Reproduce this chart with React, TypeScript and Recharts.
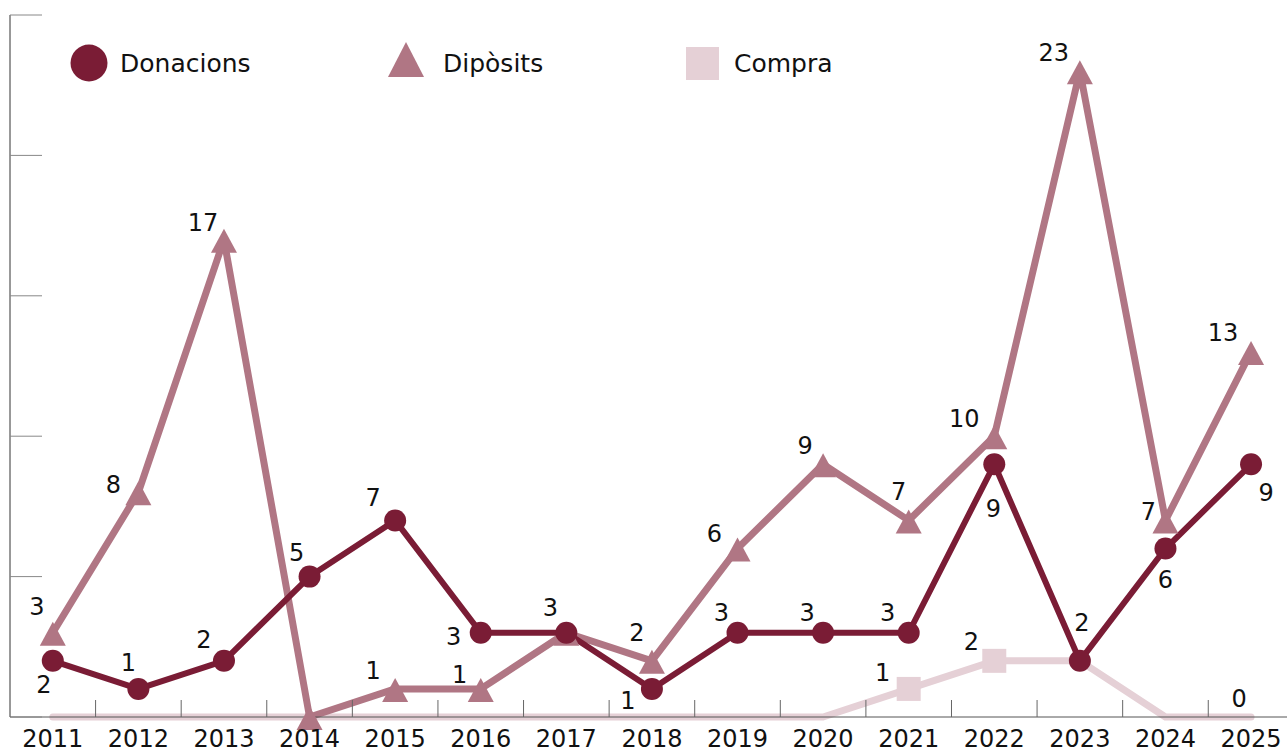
import React from 'react';
import { LineChart, Line, XAxis, YAxis, Legend, LabelList } from 'recharts';

const years = ['2011', '2012', '2013', '2014', '2015', '2016', '2017', '2018', '2019', '2020', '2021', '2022', '2023', '2024', '2025'];
const donacions = [2, 1, 2, 5, 7, 3, 3, 1, 3, 3, 3, 9, 2, 6, 9];
const diposits = [3, 8, 17, 0, 1, 1, 3, 2, 6, 9, 7, 10, 23, 7, 13];
const compra = [0, 0, 0, 0, 0, 0, 0, 0, 0, 0, 1, 2, 2, 0, 0];
const yTicks = [0, 5, 10, 15, 20, 25];
const seriesNames = { don: 'Donacions', dip: 'Dipòsits', com: 'Compra' };

// label placement offsets (style only)
const donOffsets: (number[] | null)[] = [
  [-9, 24], [-10, -27], [-20, -21], [-13, -24], [-22, -23], [-27, 4], null, [-24, 11],
  [-16, -20], [-16, -20], [-21, -20], [-1, 44], [2, -38], [0, 31], [15, 28],
];
const dipOffsets: (number[] | null)[] = [
  [-16, -26], [-25, -8], [-21, -17], null, [-22, -19], [-21, -15], [-16, -25], [-15, -28],
  [-23, -15], [-18, -19], [-10, -29], [-30, -18], [-26, -19], [-17, -9], [-28, -20],
];
const comOffsets: (number[] | null)[] = [
  null, null, null, null, null, null, null, null, null, null,
  [-26, -17], [-23, -19], null, null, [-12, -19],
];
// which Compra markers are visible (style only; the 2023 one sits under a Donacions marker)
const comMarkerVisible = [false, false, false, false, false, false, false, false, false, false, true, true, false, false, false];

const data = years.map((y, i) => ({ idx: i, year: y, don: donacions[i], dip: diposits[i], com: compra[i] }));

const W = 1287;
const H = 753;
const LEFT = 10;
const X_MAX = 14.42;
const HALF_BAND = (W - LEFT) / (X_MAX + 0.5) / 2;
const FONT = 'DejaVu Sans';

const C_DON = '#7a1c35';
const C_DIP = '#b07684';
const C_COM = '#e5d0d6';

const CircleDot = (p: any) => <circle key={`c${p.index}`} cx={p.cx} cy={p.cy} r={11} fill={C_DON} />;
const TriDot = (p: any) => {
  const { cx, cy } = p;
  return <polygon key={`t${p.index}`} points={`${cx - 13},${cy + 13} ${cx + 13},${cy + 13} ${cx},${cy - 11}`} fill={C_DIP} />;
};
const SquareDot = (p: any) => {
  if (!comMarkerVisible[p.index]) return <g key={`s${p.index}`} />;
  return <rect key={`s${p.index}`} x={p.cx - 12} y={p.cy - 12} width={24} height={24} fill={C_COM} />;
};

const makeLabel = (offs: (number[] | null)[]) => (props: any) => {
  const i = props.index;
  const o = offs[i];
  if (!o) return null;
  const vb = props.viewBox || {};
  const x = props.x ?? vb.x;
  const y = props.y ?? vb.y;
  return (
    <text key={`l${i}`} x={x + o[0]} y={y + o[1]} dy="0.36em" textAnchor="middle" fontSize={24} fontFamily={FONT} fill="#111">
      {props.value}
    </text>
  );
};

const XTick = (props: any) => {
  const { x, y, payload } = props;
  const i = payload.value;
  return (
    <g>
      <text x={x} y={y + 30} textAnchor="middle" fontSize={24} fontFamily={FONT} fill="#111">{years[i]}</text>
      {i < years.length - 1 && (
        <line x1={x + HALF_BAND} x2={x + HALF_BAND} y1={y} y2={y - 17} stroke="#666" strokeWidth={1} />
      )}
    </g>
  );
};

const EmptyTick = () => <g />;

const renderLegend = () => (
  <svg width={900} height={100} style={{ display: 'block' }}>
    <circle cx={89} cy={63} r={18.5} fill={C_DON} />
    <text x={120} y={72} fontSize={25} fontFamily={FONT} fill="#111">{seriesNames.don}</text>
    <polygon points="388,77 424,77 406,42" fill={C_DIP} />
    <text x={443} y={72} fontSize={25} fontFamily={FONT} fill="#111">{seriesNames.dip}</text>
    <rect x={686} y={47} width={33} height={33} fill={C_COM} />
    <text x={734} y={72} fontSize={25} fontFamily={FONT} fill="#111">{seriesNames.com}</text>
  </svg>
);

export default function App() {
  return (
    <div style={{ position: 'absolute', left: 0, top: 0, width: W, height: H, background: '#fff' }}>
      <LineChart width={W} height={H} data={data} margin={{ top: 15, right: 0, bottom: 0, left: LEFT }}>
        <XAxis
          dataKey="idx"
          type="number"
          domain={[-0.5, X_MAX]}
          ticks={years.map((_, i) => i)}
          interval={0}
          height={36}
          tickLine={false}
          tickSize={0}
          tickMargin={0}
          stroke="#555"
          axisLine={{ stroke: '#555', strokeWidth: 1 }}
          tick={<XTick />}
        />
        <YAxis
          type="number"
          domain={[0, 25]}
          ticks={yTicks}
          mirror
          tick={EmptyTick}
          tickSize={32}
          stroke="#333"
          tickLine={{ stroke: '#888', strokeWidth: 1 }}
          axisLine={{ stroke: '#333', strokeWidth: 1 }}
        />
        <Legend layout="horizontal" verticalAlign="middle" align="center" wrapperStyle={{ top: 0, left: 0, width: 900, height: 100 }} content={renderLegend} />
        <Line dataKey="com" name={seriesNames.com} stroke={C_COM} strokeWidth={7} strokeLinecap="round" strokeLinejoin="round" dot={SquareDot} activeDot={false} isAnimationActive={false}>
          <LabelList dataKey="com" content={makeLabel(comOffsets)} />
        </Line>
        <Line dataKey="dip" name={seriesNames.dip} stroke={C_DIP} strokeWidth={7} strokeLinecap="round" strokeLinejoin="round" dot={TriDot} activeDot={false} isAnimationActive={false}>
          <LabelList dataKey="dip" content={makeLabel(dipOffsets)} />
        </Line>
        <Line dataKey="don" name={seriesNames.don} stroke={C_DON} strokeWidth={6} strokeLinecap="round" strokeLinejoin="round" dot={CircleDot} activeDot={false} isAnimationActive={false}>
          <LabelList dataKey="don" content={makeLabel(donOffsets)} />
        </Line>
      </LineChart>
    </div>
  );
}
